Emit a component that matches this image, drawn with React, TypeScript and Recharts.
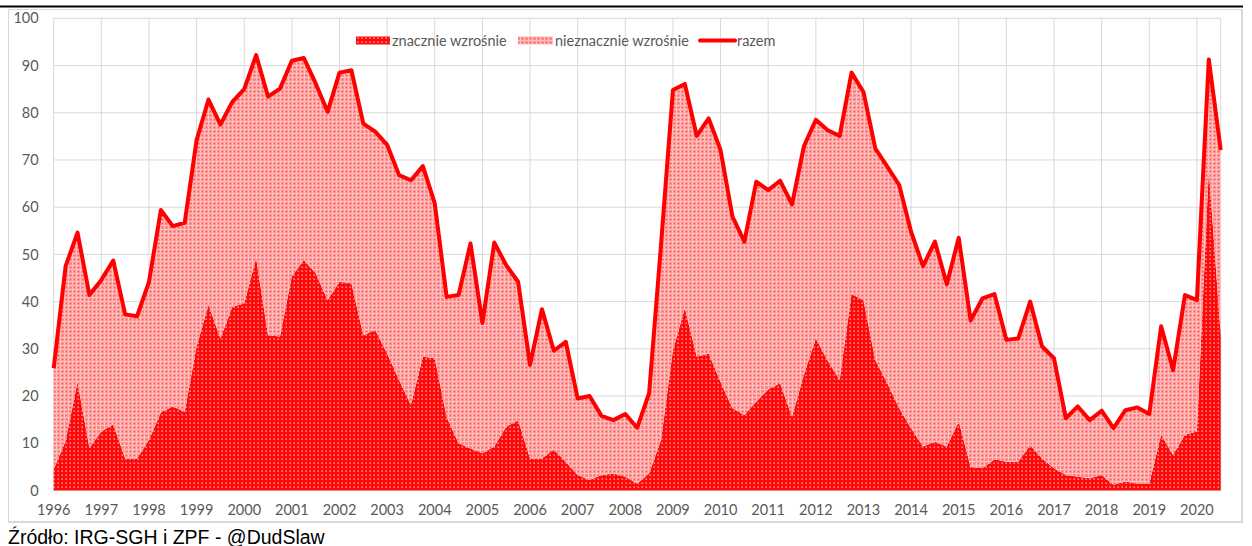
import React from "react";
import { ComposedChart, Area, Line, XAxis, YAxis, CartesianGrid } from "recharts";

// Tick labels (years, one label per 4 quarters)
const years: string[] = [
  "1996","1997","1998","1999","2000","2001","2002","2003","2004","2005","2006","2007","2008",
  "2009","2010","2011","2012","2013","2014","2015","2016","2017","2018","2019","2020",
];
const quarterNames = ["Q1", "Q2", "Q3", "Q4"];
// Categories: quarters 1996 Q1 .. 2020 Q3
const quarters: string[] = years.flatMap((y) => quarterNames.map((q) => `${y} ${q}`)).slice(0, 99);

// "razem" (total)
const razem: number[] = [
  25.9, 47.5, 54.6, 41.4, 44.6, 48.7, 37.3, 36.9, 44.2, 59.4, 56.0, 56.7,
  74.2, 82.8, 77.5, 82.3, 85.0, 92.2, 83.4, 85.1, 91.0, 91.6, 86.2, 80.2,
  88.5, 89.0, 77.7, 76.0, 73.2, 66.8, 65.7, 68.7, 60.8, 41.0, 41.4, 52.3,
  35.5, 52.5, 47.7, 44.2, 26.6, 38.4, 29.6, 31.5, 19.5, 20.0, 15.8, 14.9,
  16.2, 13.3, 20.6, 52.0, 84.8, 86.1, 75.1, 78.8, 72.1, 58.0, 52.7, 65.4,
  63.6, 65.6, 60.6, 72.9, 78.5, 76.3, 75.1, 88.5, 84.4, 72.4, 68.6, 64.7,
  54.8, 47.5, 52.7, 43.7, 53.5, 36.0, 40.7, 41.6, 31.9, 32.2, 40.0, 30.5,
  28.0, 15.3, 17.8, 14.9, 16.9, 13.2, 17.0, 17.6, 16.2, 34.8, 25.5, 41.4,
  40.3, 91.3, 72.1,
];
// "znacznie wzrośnie"
const znacznie: number[] = [
  4.5, 10.5, 23.0, 9.0, 12.5, 14.0, 6.8, 6.8, 10.7, 16.5, 17.8, 16.7,
  30.5, 39.3, 32.2, 38.9, 39.6, 49.2, 32.9, 32.6, 45.3, 48.8, 46.0, 40.3,
  44.2, 43.9, 32.9, 34.0, 29.0, 23.4, 18.1, 28.3, 28.0, 15.5, 10.0, 8.9,
  7.9, 9.3, 13.5, 14.9, 6.8, 6.8, 8.7, 6.1, 3.3, 2.2, 3.3, 3.6,
  2.9, 1.5, 3.6, 10.7, 29.7, 38.6, 28.3, 29.0, 23.0, 17.4, 16.0, 18.8,
  21.4, 22.7, 15.6, 24.5, 32.2, 27.5, 23.4, 41.6, 40.3, 27.6, 22.7, 17.4,
  13.2, 9.3, 10.3, 9.3, 14.6, 5.0, 4.7, 6.6, 6.1, 6.1, 9.6, 6.8,
  4.7, 3.3, 2.9, 2.6, 3.3, 1.2, 1.9, 1.5, 1.5, 11.8, 7.5, 11.8,
  12.5, 68.0, 33.0,
];
// "nieznacznie wzrośnie"
const nieznacznie: number[] = [
  21.4, 37.0, 31.6, 32.4, 32.1, 34.7, 30.5, 30.1, 33.5, 42.9, 38.2, 40.0,
  43.7, 43.5, 45.3, 43.4, 45.4, 43.0, 50.5, 52.5, 45.7, 42.8, 40.2, 39.9,
  44.3, 45.1, 44.8, 42.0, 44.2, 43.4, 47.6, 40.4, 32.8, 25.5, 31.4, 43.4,
  27.6, 43.2, 34.2, 29.3, 19.8, 31.6, 20.9, 25.4, 16.2, 17.8, 12.5, 11.3,
  13.3, 11.8, 17.0, 41.3, 55.1, 47.5, 46.8, 49.8, 49.1, 40.6, 36.7, 46.6,
  42.2, 42.9, 45.0, 48.4, 46.3, 48.8, 51.7, 46.9, 44.1, 44.8, 45.9, 47.3,
  41.6, 38.2, 42.4, 34.4, 38.9, 31.0, 36.0, 35.0, 25.8, 26.1, 30.4, 23.7,
  23.3, 12.0, 14.9, 12.3, 13.6, 12.0, 15.1, 16.1, 14.7, 23.0, 18.0, 29.6,
  27.8, 23.3, 39.1,
];
const yTicks: number[] = [0, 10, 20, 30, 40, 50, 60, 70, 80, 90, 100];
const yMinorTicks: number[] = Array.from({ length: 51 }, (_, k) => k * 2);
const xTicks: number[] = years.map((_, k) => k * 4);

const data = quarters.map((q, i) => ({
  i,
  q,
  znacznie: znacznie[i],
  nieznacznie: nieznacznie[i],
  razem: razem[i],
}));

const TICK_FONT = "Lato, 'Open Sans', sans-serif";
const GRAY = "#595959";
const FS = 14.5;

function Patterns({ suffix }: { suffix: string }) {
  return (
    <defs>
      <pattern id={`patZ${suffix}`} x="0" y="0" width="4" height="4" patternUnits="userSpaceOnUse">
        <rect x="0" y="0" width="4" height="4" fill="#ff0a0a" />
        <rect x="1" y="1" width="2" height="2" fill="#ff4848" />
        <rect x="2" y="2" width="1" height="1" fill="#ff8c8c" />
      </pattern>
      <pattern id={`patN${suffix}`} x="0" y="0" width="4" height="4" patternUnits="userSpaceOnUse">
        <rect x="0" y="0" width="4" height="4" fill="#ff9090" />
        <rect x="0" y="0" width="4" height="1" fill="#ffc0c0" />
        <rect x="0" y="0" width="1" height="4" fill="#ffc0c0" />
        <rect x="2" y="2" width="1" height="1" fill="#ff5a5a" />
      </pattern>
    </defs>
  );
}

export default function App() {
  return (
    <div style={{ position: "relative", width: 1252, height: 546, background: "#fff", overflow: "hidden" }}>
      <style>{`body{margin:0;}`}</style>
      {/* Chart frame */}
      <div
        style={{
          position: "absolute",
          left: 8,
          top: 9,
          width: 1232,
          height: 511,
          border: "1px solid #d9d9d9",
          borderRightWidth: 2,
          borderBottomWidth: 2,
        }}
      />
      <div style={{ position: "absolute", left: 8, top: 9 }}>
        <ComposedChart
          width={1234}
          height={513}
          data={data}
          margin={{ top: 9.3, right: 21.3, left: 0, bottom: 0 }}
        >
          <Patterns suffix="" />
          <XAxis
            xAxisId={0}
            type="number"
            dataKey="i"
            domain={[0, 98]}
            ticks={xTicks}
            interval={0}
            tickFormatter={(v: number) => years[Math.round(v / 4)]}
            axisLine={false}
            tickLine={false}
            tickSize={0}
            tickMargin={14.5}
            height={31.5}
            tick={{ fill: GRAY, fontSize: FS, fontFamily: TICK_FONT }}
          />
          <YAxis
            yAxisId={0}
            type="number"
            domain={[0, 100]}
            ticks={yTicks}
            interval={0}
            axisLine={false}
            tickLine={false}
            tickSize={0}
            tickMargin={15}
            width={45.7}
            tick={{ fill: GRAY, fontSize: FS, fontFamily: TICK_FONT }}
          />
          <YAxis yAxisId="minor" type="number" domain={[0, 100]} ticks={yMinorTicks} interval={0} hide />
          <CartesianGrid yAxisId="minor" vertical={false} stroke="#efefef" strokeWidth={1} />
          <CartesianGrid yAxisId={0} stroke="#d9d9d9" strokeWidth={1} />
          <Area
            yAxisId={0}
            type="linear"
            dataKey="znacznie"
            stackId="s"
            stroke="none"
            fill="url(#patZ)"
            fillOpacity={1}
            isAnimationActive={false}
            dot={false}
            activeDot={false}
          />
          <Area
            yAxisId={0}
            type="linear"
            dataKey="nieznacznie"
            stackId="s"
            stroke="none"
            fill="url(#patN)"
            fillOpacity={1}
            isAnimationActive={false}
            dot={false}
            activeDot={false}
          />
          <Line
            yAxisId={0}
            type="linear"
            dataKey="razem"
            stroke="#ff0000"
            strokeWidth={4}
            strokeLinejoin="round"
            dot={false}
            activeDot={false}
            isAnimationActive={false}
          />
        </ComposedChart>
      </div>
      {/* Overlay: top rule, legend, source */}
      <svg
        width={1252}
        height={546}
        style={{ position: "absolute", left: 0, top: 0, pointerEvents: "none" }}
      >
        <Patterns suffix="L" />
        <rect x={0} y={5.5} width={1243} height={2} fill="#000" />
        <g fontFamily={TICK_FONT} fontSize={FS} fill={GRAY}>
          <rect x={356} y={36.5} width={34} height={8} fill="url(#patZL)" />
          <text x={392} y={45.5}>znacznie wzrośnie</text>
          <rect x={518} y={36.5} width={35} height={8} fill="url(#patNL)" />
          <text x={555} y={45.5}>nieznacznie wzrośnie</text>
          <line x1={700} y1={40.5} x2={735} y2={40.5} stroke="#ff0000" strokeWidth={4} strokeLinecap="round" />
          <text x={737} y={45.5}>razem</text>
        </g>
        <text
          x={8}
          y={543.5}
          fontFamily="'Liberation Sans', Arial, sans-serif"
          fontSize={19.5}
          fill="#000"
        >
          Źródło: IRG-SGH i ZPF - @DudSlaw
        </text>
      </svg>
    </div>
  );
}
